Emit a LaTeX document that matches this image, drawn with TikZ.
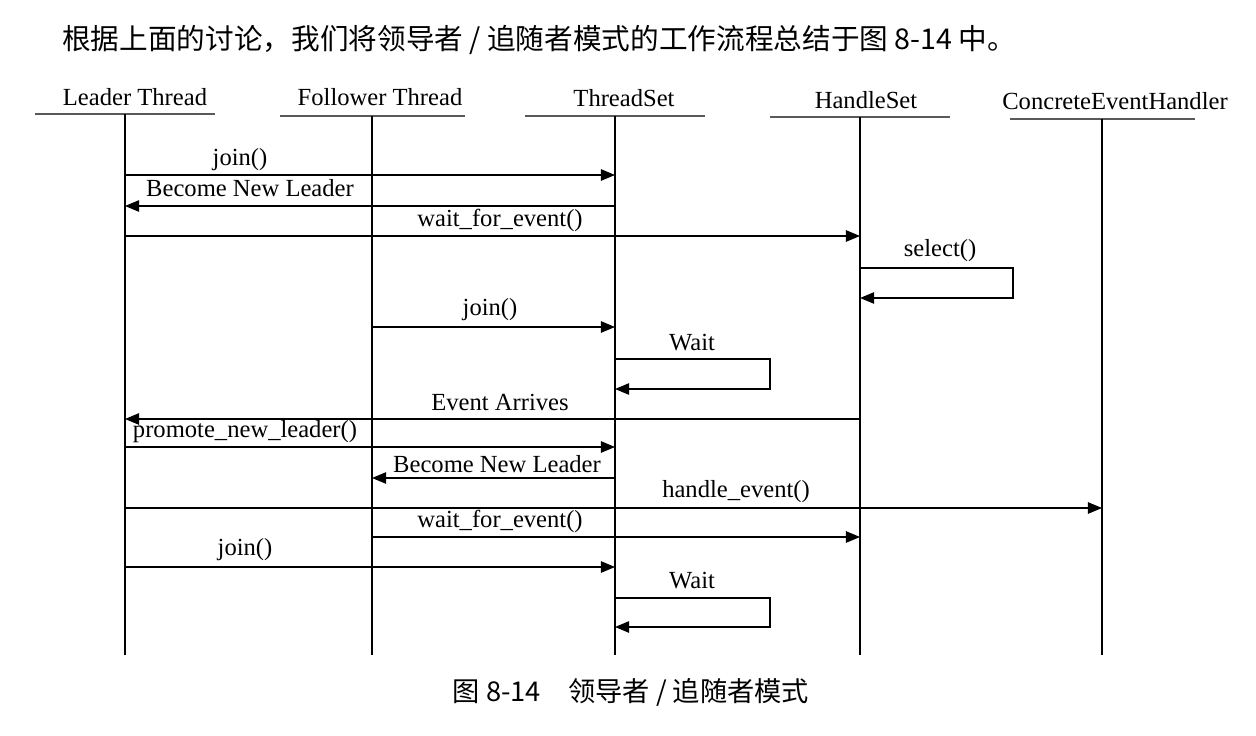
\documentclass[tikz,border=0pt]{standalone}
\usepackage{fontspec}
\setmainfont{Liberation Serif}
\newfontfamily\cjk{Noto Sans CJK SC}
\usetikzlibrary{arrows.meta}

\tikzset{
  msg/.style={-{Triangle[length=8pt,width=6.5pt]}, line width=0.7pt},
  life/.style={line width=0.7pt},
  headline/.style={line width=1pt, black!65},
  lab/.style={inner sep=0pt, font=\fontsize{14}{16}\selectfont},
}

\begin{document}
\begin{tikzpicture}[x=0.02cm, y=-0.02cm]
\useasboundingbox (0,0) rectangle (1256,736);

\node[anchor=west, inner sep=0pt, font=\cjk\fontsize{16.3}{18}\selectfont] (intro) at (62,40) {根据上面的讨论，我们将领导者 / 追随者模式的工作流程总结于图 8-14 中。};

\node[lab] (lt) at (135,97) {Leader Thread};
\node[lab] (ft) at (380,97) {Follower Thread};
\node[lab] (ts) at (624,98) {ThreadSet};
\node[lab] (hs) at (866,100) {HandleSet};
\node[lab] (ceh) at (1115,101) {ConcreteEventHandler};

\draw[headline] (35,114) -- (215,114);
\draw[headline] (280,116) -- (465,116);
\draw[headline] (525,116) -- (705,116);
\draw[headline] (770,117) -- (950,117);
\draw[headline] (1010,119) -- (1195,119);

\coordinate (lt1) at (125,114);  \coordinate (lt2) at (125,655);
\coordinate (ft1) at (372,116);  \coordinate (ft2) at (372,655);
\coordinate (ts1) at (615,116);  \coordinate (ts2) at (615,655);
\coordinate (hs1) at (860,117);  \coordinate (hs2) at (860,655);
\coordinate (ceh1) at (1102,119); \coordinate (ceh2) at (1102,655);
\draw[life] (lt1) -- (lt2);
\draw[life] (ft1) -- (ft2);
\draw[life] (ts1) -- (ts2);
\draw[life] (hs1) -- (hs2);
\draw[life] (ceh1) -- (ceh2);

\node[lab] (m1) at (240,160) {join()};
\draw[msg] (lt1 |- 0,175) -- (ts1 |- 0,175);
\node[lab] (m2) at (250,188) {Become New Leader};
\draw[msg] (ts1 |- 0,206) -- (lt1 |- 0,206);
\node[lab] (m3) at (500,220) {wait\_for\_event()};
\draw[msg] (lt1 |- 0,236) -- (hs1 |- 0,236);

\coordinate (sel) at (1013,268);
\node[lab] (m4) at (940,251) {select()};
\draw[msg] (hs1 |- sel) -- (sel) -- (sel |- 0,298) -- (hs1 |- 0,298);

\node[lab] (m5) at (490,310) {join()};
\draw[msg] (ft1 |- 0,327) -- (ts1 |- 0,327);

\coordinate (wt1) at (770,359);
\node[lab] (m6) at (692,343) {Wait};
\draw[msg] (ts1 |- wt1) -- (wt1) -- (wt1 |- 0,389) -- (ts1 |- 0,389);

\node[lab] (m7) at (500,402) {Event Arrives};
\draw[msg] (hs1 |- 0,419) -- (lt1 |- 0,419);
\node[lab] (m8) at (245,432) {promote\_new\_leader()};
\draw[msg] (lt1 |- 0,447) -- (ts1 |- 0,447);
\node[lab] (m9) at (497,464) {Become New Leader};
\draw[msg] (ts1 |- 0,478) -- (ft1 |- 0,478);
\node[lab] (m10) at (736,492) {handle\_event()};
\draw[msg] (lt1 |- 0,508) -- (ceh1 |- 0,508);
\node[lab] (m11) at (500,521) {wait\_for\_event()};
\draw[msg] (ft1 |- 0,537) -- (hs1 |- 0,537);
\node[lab] (m12) at (245,550) {join()};
\draw[msg] (lt1 |- 0,567) -- (ts1 |- 0,567);

\coordinate (wt2) at (770,598);
\node[lab] (m13) at (692,581) {Wait};
\draw[msg] (ts1 |- wt2) -- (wt2) -- (wt2 |- 0,627) -- (ts1 |- 0,627);

\node[inner sep=0pt, font=\cjk\fontsize{15.5}{18}\selectfont] (cap) at (631,692) {图 8-14\hspace{1em}领导者 / 追随者模式};
\end{tikzpicture}
\end{document}
